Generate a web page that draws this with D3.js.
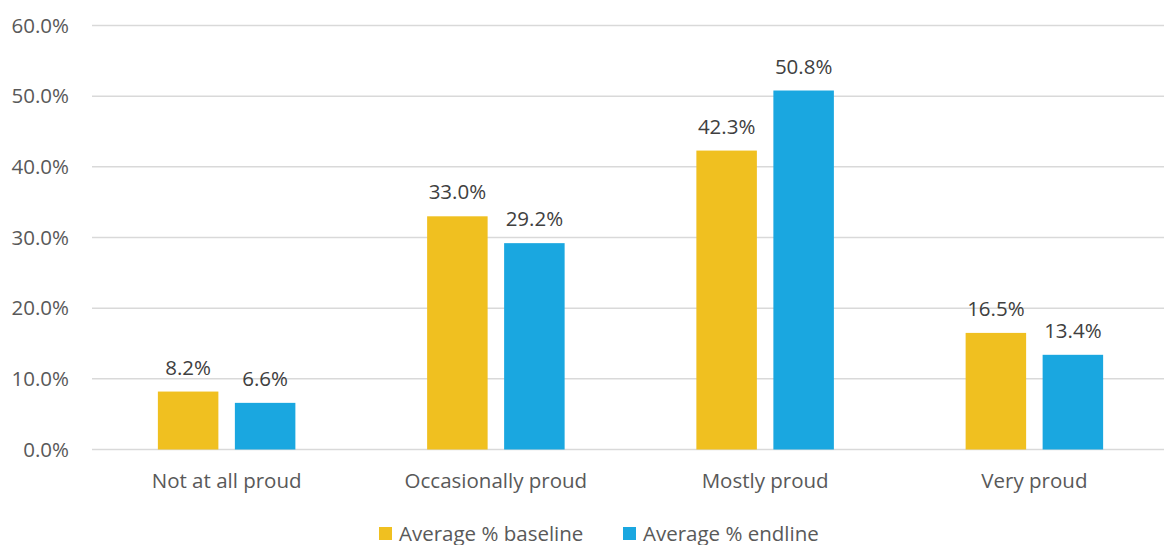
<!DOCTYPE html>
<html>
<head>
<meta charset="utf-8">
<script src="https://cdn.jsdelivr.net/npm/d3@7"></script>
<style>
  html, body { margin: 0; padding: 0; background: #fff; }
  svg { display: block; font-family: "Open Sans", Lato, sans-serif; }
</style>
</head>
<body>
<svg id="chart" width="1164" height="545"></svg>
<script>
// Pride levels, average share of respondents
const categories = ["Not at all proud", "Occasionally proud", "Mostly proud", "Very proud"];
const seriesNames = ["Average % baseline", "Average % endline"];
const baseline = [8.2, 33.0, 42.3, 16.5];
const endline = [6.6, 29.2, 50.8, 13.4];
const yTicks = [0, 10, 20, 30, 40, 50, 60];
const colors = ["#F0C020", "#1AA7E0"];

const svg = d3.select("#chart");
const textColor = "#595959";
const fontSize = 20.5;

const x = d3.scaleBand().domain(categories).range([92, 1169]).paddingInner(0).paddingOuter(0);
const y = d3.scaleLinear().domain([0, 60]).range([449.5, 25.5]);

// two bars per category with a fixed gap between them
const barW = 60.5, barGap = 16.5;
const xs = d3.scaleBand().domain(seriesNames)
  .range([0, 2 * barW + barGap]).paddingInner(barGap / (barW + barGap)).paddingOuter(0);
const groupOffset = (x.bandwidth() - (2 * barW + barGap)) / 2;

// gridlines
svg.append("g")
  .selectAll("line").data(yTicks).join("line")
  .attr("x1", 92).attr("x2", 1164)
  .attr("y1", d => y(d)).attr("y2", d => y(d))
  .attr("stroke", "#D9D9D9").attr("stroke-width", 1.5);

// y axis labels
const yAxis = d3.axisLeft(y).tickValues(yTicks).tickFormat(d => d.toFixed(1) + "%").tickSize(0).tickPadding(0);
const gy = svg.append("g").attr("transform", "translate(69,0)").call(yAxis);
gy.select(".domain").remove();
gy.selectAll("text").attr("fill", textColor).attr("font-size", fontSize)
  .attr("font-family", "'Open Sans', Lato, sans-serif");

// x axis labels
const xAxis = d3.axisBottom(x).tickSize(0).tickPadding(0);
const gx = svg.append("g").attr("transform", "translate(0,0)").call(xAxis);
gx.select(".domain").remove();
gx.selectAll("text").attr("y", 488).attr("dy", 0)
  .attr("fill", textColor).attr("font-size", fontSize)
  .attr("font-family", "'Open Sans', Lato, sans-serif");

// bars
const rows = categories.map((c, i) => ({ cat: c, vals: [baseline[i], endline[i]] }));
const groups = svg.append("g").selectAll("g").data(rows).join("g")
  .attr("transform", d => `translate(${x(d.cat) + groupOffset},0)`);

groups.selectAll("rect").data(d => d.vals.map((v, j) => ({ v, s: seriesNames[j], j })))
  .join("rect")
  .attr("x", d => xs(d.s)).attr("width", xs.bandwidth())
  .attr("y", d => y(d.v)).attr("height", d => y(0) - y(d.v))
  .attr("fill", d => colors[d.j]);

// value labels above bars
groups.selectAll("text").data(d => d.vals.map((v, j) => ({ v, s: seriesNames[j], j })))
  .join("text")
  .attr("x", d => xs(d.s) + xs.bandwidth() / 2)
  .attr("y", d => y(d.v) - 17)
  .attr("text-anchor", "middle")
  .attr("fill", "#404040").attr("font-size", fontSize)
  .text(d => d.v.toFixed(1) + "%");

// legend
const legendItems = [{ name: seriesNames[0], x: 379 }, { name: seriesNames[1], x: 623 }];
const lg = svg.append("g").selectAll("g").data(legendItems).join("g")
  .attr("transform", d => `translate(${d.x},527)`);
lg.append("rect").attr("width", 13).attr("height", 13).attr("fill", (d, i) => colors[i]);
lg.append("text").attr("x", 20).attr("y", 13.5)
  .attr("fill", textColor).attr("font-size", fontSize).text(d => d.name);
</script>
</body>
</html>
